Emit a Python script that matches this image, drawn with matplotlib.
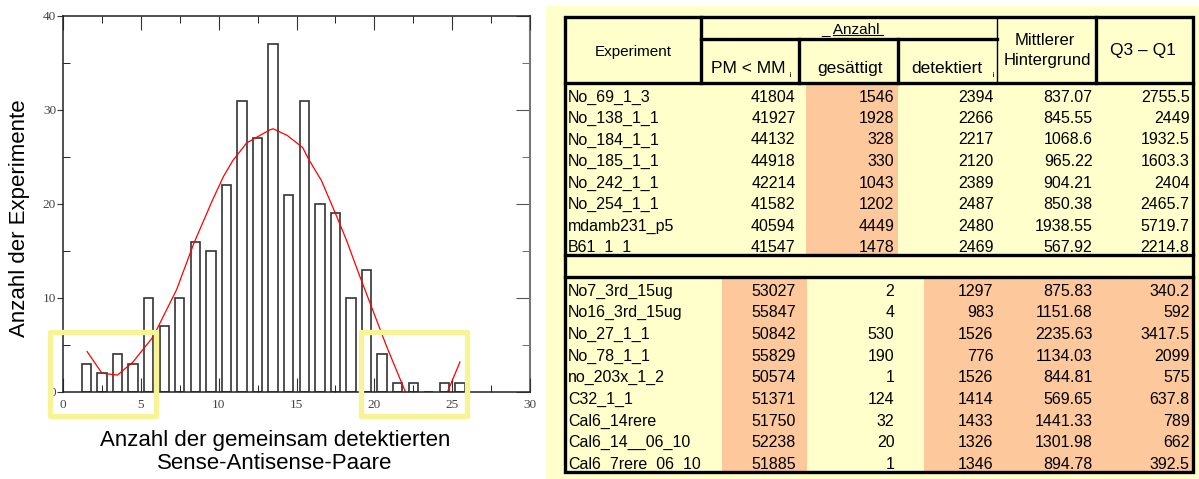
import numpy as np
import matplotlib.pyplot as plt
from matplotlib.patches import Rectangle
from matplotlib.ticker import MultipleLocator

plt.rcParams["font.family"] = ["Liberation Sans", "DejaVu Sans"]

# histogram: experiments per number of shared detected sense/antisense pairs
bins = list(range(1, 26))
counts = [3, 2, 4, 3, 10, 7, 10, 16, 15, 22, 31, 27, 37, 21, 31, 20, 19, 10, 13, 4, 1, 1, 0, 1, 1]

# fitted curve
fit_x = [1.55, 2.5, 3.5, 4.5, 5.8, 7.3, 8.4, 9.6, 10.3, 10.9, 11.8, 13.3, 13.5, 14.4,
         15.4, 15.8, 16.6, 17.5, 18.2, 19.0, 19.9, 20.8, 22.0]
fit_y = [4.3, 2.0, 1.8, 3.2, 5.9, 10.9, 15.8, 20.4, 22.9, 24.6, 26.5, 27.9, 28.0, 27.3,
         26.0, 24.7, 22.5, 19.0, 16.2, 12.6, 8.7, 4.8, 0.0]
tail_x = [24.7, 25.5]
tail_y = [0.0, 3.2]

# highlighted ranges (x from, x to)
highlight = [(-0.85, 5.95), (19.15, 25.95)]

# table
names1 = ["No_69_1_3", "No_138_1_1", "No_184_1_1", "No_185_1_1", "No_242_1_1",
          "No_254_1_1", "mdamb231_p5", "B61_1_1"]
pm1 = [41804, 41927, 44132, 44918, 42214, 41582, 40594, 41547]
sat1 = [1546, 1928, 328, 330, 1043, 1202, 4449, 1478]
det1 = [2394, 2266, 2217, 2120, 2389, 2487, 2480, 2469]
bg1 = ["837.07", "845.55", "1068.6", "965.22", "904.21", "850.38", "1938.55", "567.92"]
iqr1 = ["2755.5", "2449", "1932.5", "1603.3", "2404", "2465.7", "5719.7", "2214.8"]

names2 = ["No7_3rd_15ug", "No16_3rd_15ug", "No_27_1_1", "No_78_1_1", "no_203x_1_2",
          "C32_1_1", "Cal6_14rere", "Cal6_14__06_10", "Cal6_7rere_06_10"]
pm2 = [53027, 55847, 50842, 55829, 50574, 51371, 51750, 52238, 51885]
sat2 = [2, 4, 530, 190, 1, 124, 32, 20, 1]
det2 = [1297, 983, 1526, 776, 1526, 1414, 1433, 1326, 1346]
bg2 = ["875.83", "1151.68", "2235.63", "1134.03", "844.81", "569.65", "1441.33", "1301.98", "894.78"]
iqr2 = ["340.2", "592", "3417.5", "2099", "575", "637.8", "789", "662", "392.5"]

W, H = 1199, 479
fig = plt.figure(figsize=(W / 100, H / 100), dpi=100)

# pixel-space layer for the table and the labels
tb = fig.add_axes([0, 0, 1, 1])
tb.set_xlim(0, W)
tb.set_ylim(H, 0)
tb.axis("off")

cream = "#ffffcc"
peach = "#fcc89c"
tb.add_patch(Rectangle((546, 6), W - 546, H - 6, color=cream, lw=0))

col = [565, 701, 799, 898, 997, 1096, 1193]
top0, top1 = 83, 255
bot0, bot1 = 277, 472

tb.add_patch(Rectangle((806, top0), 898 - 806, top1 - top0, color=peach, lw=0))
tb.add_patch(Rectangle((722, bot0), 807 - 722, bot1 - bot0, color=peach, lw=0))
tb.add_patch(Rectangle((924, bot0), 1192 - 924, bot1 - bot0, color=peach, lw=0))


def fill_rows(y0, y1, names, *cols):
    h = (y1 - y0) / len(names)
    for i, name in enumerate(names):
        yb = y0 + h * (i + 1) - 3
        tb.text(568, yb, name, ha="left", va="baseline", fontsize=11.5)
        for j, vals in enumerate(cols):
            tb.text(col[j + 2] - 3.5, yb, str(vals[i]), ha="right", va="baseline", fontsize=11.5)


fill_rows(top0, top1, names1, pm1, sat1, det1, bg1, iqr1)
fill_rows(bot0, bot1, names2, pm2, sat2, det2, bg2, iqr2)

lw = 2.4
tb.add_patch(Rectangle((565, 17), 1193 - 565, 472 - 17, fill=False, ec="black", lw=lw))
for y in [83, 255, 277]:
    tb.plot([565, 1193], [y, y], color="black", lw=lw)
for x in [701, 1096]:
    tb.plot([x, x], [17, 83], color="black", lw=lw)
tb.plot([997, 997], [17, 83], color="black", lw=1)
tb.plot([701, 997], [39, 39], color="black", lw=lw)
for x in [799, 898]:
    tb.plot([x, x], [39, 83], color="black", lw=lw)

# header texts
tb.text(633, 52, "Experiment", ha="center", va="center", fontsize=11)
tb.text(850, 33, "_ Anzahl", ha="center", va="baseline", fontsize=11)
tb.plot([833, 883], [35, 35], color="black", lw=0.8)
tb.text(748, 73, "PM < MM", ha="center", va="baseline", fontsize=12.5)
tb.text(789, 76, "¡", ha="center", va="baseline", fontsize=6)
tb.text(850, 73, "gesättigt", ha="center", va="baseline", fontsize=12.5)
tb.text(947, 73, "detektiert", ha="center", va="baseline", fontsize=12.5)
tb.text(992, 76, "¡", ha="center", va="baseline", fontsize=6)
tb.text(1045, 45, "Mittlerer", ha="center", va="baseline", fontsize=12)
tb.text(1047, 65, "Hintergrund", ha="center", va="baseline", fontsize=12)
tb.text(1143, 55, "Q3 – Q1", ha="center", va="baseline", fontsize=12.5)

# axis labels of the histogram
tb.text(20, 218, "Anzahl der Experimente", rotation=90, ha="center", va="center", fontsize=16)
tb.text(275, 452, "Anzahl der gemeinsam detektierten\nSense-Antisense-Paare",
        ha="center", va="center", fontsize=16, linespacing=1.1)

# histogram
ax = fig.add_axes([63 / W, (H - 392) / H, 467 / W, 376 / H])
ax.bar(np.array(bins) + 0.5, counts, width=0.6, fill=False, edgecolor="#333333", linewidth=1.2)
ax.plot(fit_x, fit_y, color="red", lw=0.9)
ax.plot(tail_x, tail_y, color="red", lw=0.9)

for x0, x1 in highlight:
    ax.add_patch(Rectangle((x0, -2.55), x1 - x0, 8.95, fill=False, ec="#f8f496",
                           lw=3.8, joinstyle="round", clip_on=False, zorder=5))

ax.set_xlim(0, 30)
ax.set_ylim(0, 40)
ax.set_xticks(range(0, 31, 5))
ax.xaxis.set_minor_locator(MultipleLocator(2.5))
ax.set_yticks(range(0, 41, 10))
ax.yaxis.set_minor_locator(MultipleLocator(5))
ax.tick_params(axis="x", which="major", direction="in", length=10, top=True, pad=5)
ax.tick_params(axis="x", which="minor", direction="in", length=5, top=True)
ax.tick_params(axis="y", which="major", direction="out", length=4, pad=1)
ax.tick_params(axis="y", which="minor", direction="in", length=5)
ax.tick_params(labelsize=9.5, labelcolor="#444444", colors="#333333")
for lbl in ax.get_xticklabels() + ax.get_yticklabels():
    lbl.set_fontfamily("Liberation Serif")

sec = ax.secondary_yaxis("right")
sec.set_yticks(range(0, 41, 10))
sec.yaxis.set_minor_locator(MultipleLocator(5))
sec.tick_params(which="major", direction="in", length=10, labelright=False, colors="#555555")
sec.tick_params(which="minor", direction="in", length=6, colors="#555555")
sec.spines["right"].set_color("#777777")
sec.spines["right"].set_linewidth(1.5)
ax.spines["right"].set_visible(False)
for s in ["left", "top", "bottom"]:
    ax.spines[s].set_color("#222222")
    ax.spines[s].set_linewidth(1.1)

fig.savefig("out.png", dpi=100)
